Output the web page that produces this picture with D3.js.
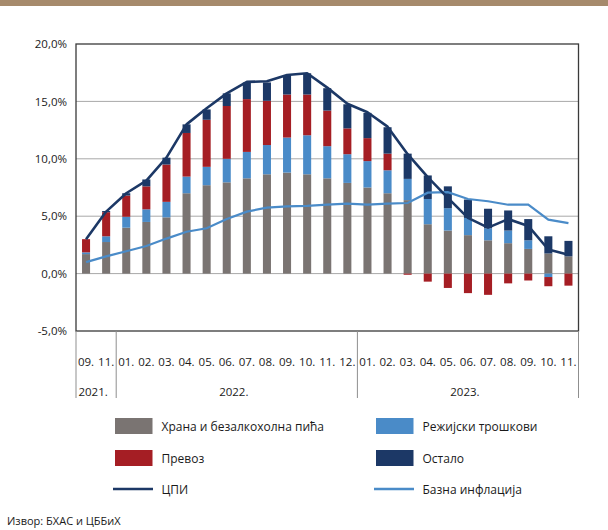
<!DOCTYPE html>
<html>
<head>
<meta charset="utf-8">
<script src="https://cdn.jsdelivr.net/npm/d3@7"></script>
<style>
    body { margin: 0; background: #fff; }
    svg text { font-family: 'Open Sans', sans-serif; fill: #1a1a1a; }
</style>
</head>
<body>
<svg id="chart"></svg>
<script>
// months on the x axis, grouped by year
const months = ['09.', '11.',
    '01.', '02.', '03.', '04.', '05.', '06.', '07.', '08.', '09.', '10.', '11.', '12.',
    '01.', '02.', '03.', '04.', '05.', '06.', '07.', '08.', '09.', '10.', '11.']
const years = [{ label: '2021.', n: 2 }, { label: '2022.', n: 12 }, { label: '2023.', n: 11 }]

// contributions to yearly inflation, p.p.
const food = [1.7, 2.75, 4.0, 4.5, 4.9, 7.0, 7.7, 7.95, 8.3, 8.65, 8.8, 8.65, 8.3, 7.9, 7.5, 7.0, 6.4, 4.3, 3.75, 3.35, 2.9, 2.65, 2.15, 1.75, 1.5]
const utilities = [0.15, 0.5, 0.95, 1.1, 1.35, 1.45, 1.6, 2.05, 2.3, 2.55, 3.05, 3.4, 2.8, 2.5, 2.3, 2.0, 1.85, 2.2, 1.95, 1.5, 1.05, 1.1, 0.75, -0.3, 0.0]
const transport = [1.15, 2.1, 1.85, 2.0, 3.25, 3.8, 4.1, 4.6, 4.6, 3.85, 3.75, 3.55, 3.1, 2.25, 2.0, 1.45, -0.1, -0.7, -1.25, -1.7, -1.85, -0.85, -0.6, -0.8, -1.05]
const other = [0.0, 0.1, 0.2, 0.6, 0.6, 0.75, 0.9, 1.1, 1.45, 1.6, 1.7, 1.85, 1.95, 2.1, 2.2, 2.3, 2.2, 2.05, 1.9, 1.6, 1.7, 1.75, 1.85, 1.5, 1.35]
const cpi = [3.0, 5.4, 7.0, 8.1, 10.1, 13.0, 14.4, 15.7, 16.7, 16.75, 17.3, 17.45, 16.2, 14.8, 14.05, 12.8, 10.4, 8.4, 6.6, 4.85, 4.0, 4.75, 4.15, 2.1, 1.65]
const core = [1.0, 1.5, 1.95, 2.4, 3.05, 3.65, 3.95, 4.75, 5.4, 5.75, 5.85, 5.9, 6.0, 6.1, 6.0, 6.1, 6.15, 7.05, 7.1, 6.5, 6.3, 6.0, 6.0, 4.7, 4.4]
const yTicks = [-5, 0, 5, 10, 15, 20]

const GRAY = '#7a7472'
const LIGHT = '#4a8bc8'
const RED = '#a51e24'
const NAVY = '#1c3866'

const series = [
    { key: 'food', name: 'Храна и безалкохолна пића', values: food, color: GRAY },
    { key: 'utilities', name: 'Режијски трошкови', values: utilities, color: LIGHT },
    { key: 'transport', name: 'Превоз', values: transport, color: RED },
    { key: 'other', name: 'Остало', values: other, color: NAVY }
]

const W = 608, H = 530
const margin = { top: 44, right: 29.5, bottom: 199, left: 76 }
const ids = months.map((m, i) => i)

const svg = d3.select('#chart').attr('width', W).attr('height', H)

svg.append('rect').attr('width', W).attr('height', H).style('fill', '#fff')
svg.append('rect').attr('width', W).attr('height', 6).style('fill', '#a68a6c')

const x = d3.scaleBand()
    .domain(ids)
    .range([margin.left, W - margin.right])
    .paddingInner(0.6)
    .paddingOuter(0.3)

const y = d3.scaleLinear()
    .domain([-5, 20])
    .range([H - margin.bottom, margin.top])

// hyphen minus and decimal comma, like the original
const locale = d3.formatLocale({ decimal: ',', thousands: '.', grouping: [3], currency: ['', ''], minus: '-' })
const fmt = v => locale.format('.1f')(v) + '%'

// gridlines
svg.append('g')
    .selectAll('line')
    .data(yTicks.filter(t => t > -5 && t < 20))
    .enter().append('line')
    .attr('x1', margin.left).attr('x2', W - margin.right)
    .attr('y1', d => y(d)).attr('y2', d => y(d))
    .style('stroke', '#a8a8a8')
    .style('stroke-width', 1)

// y axis labels
const yAxis = d3.axisLeft(y).tickValues(yTicks).tickFormat(fmt).tickSize(0).tickPadding(9)
svg.append('g')
    .attr('transform', `translate(${margin.left},0)`)
    .call(yAxis)
    .call(g => g.select('.domain').remove())
    .selectAll('text')
    .style('font-size', '11.5px')
    .style('font-family', "'Open Sans', sans-serif")
    .style('fill', '#1a1a1a')

// stacked bars
const rows = ids.map(i => {
    let r = { i }
    series.forEach(s => r[s.key] = s.values[i])
    return r
})
const stack = d3.stack()
    .keys(series.map(s => s.key))
    .offset(d3.stackOffsetDiverging)(rows)

svg.append('g')
    .selectAll('g')
    .data(stack)
    .enter().append('g')
    .style('fill', (d, k) => series[k].color)
    .selectAll('rect')
    .data(d => d)
    .enter().append('rect')
    .attr('x', d => x(d.data.i))
    .attr('y', d => y(Math.max(d[0], d[1])))
    .attr('width', x.bandwidth())
    .attr('height', d => Math.abs(y(d[0]) - y(d[1])))

// lines
const line = d3.line()
    .x((d, i) => x(i) + x.bandwidth() / 2)
    .y(d => y(d))

svg.append('path')
    .datum(core)
    .attr('d', line)
    .style('fill', 'none')
    .style('stroke', LIGHT)
    .style('stroke-width', 2.2)

svg.append('path')
    .datum(cpi)
    .attr('d', line)
    .style('fill', 'none')
    .style('stroke', NAVY)
    .style('stroke-width', 2.6)
    .style('stroke-linejoin', 'round')

// plot frame
svg.append('rect')
    .attr('x', margin.left).attr('y', margin.top)
    .attr('width', W - margin.right - margin.left)
    .attr('height', y(-5) - margin.top)
    .style('fill', 'none')
    .style('stroke', '#3a3a3a')
    .style('stroke-width', 1.3)

// category axis: months and year groups
const axisTop = y(-5), axisBottom = 398
let start = 0
const groups = years.map(g => {
    let r = { label: g.label, from: start, to: start + g.n - 1 }
    start += g.n
    return r
})
const edge = i => margin.left + i * x.step()

svg.append('g')
    .selectAll('line')
    .data(d3.range(years.length + 1))
    .enter().append('line')
    .attr('x1', k => edge(k === 0 ? 0 : groups[k - 1].to + 1))
    .attr('x2', k => edge(k === 0 ? 0 : groups[k - 1].to + 1))
    .attr('y1', axisTop).attr('y2', axisBottom)
    .style('stroke', '#8f8f8f')
    .style('stroke-width', 1)

svg.append('g')
    .selectAll('text')
    .data(months)
    .enter().append('text')
    .attr('x', (d, i) => x(i) + x.bandwidth() / 2)
    .attr('y', 365.5)
    .attr('text-anchor', 'middle')
    .style('font-size', '11.5px')
    .text(d => d)

svg.append('g')
    .selectAll('text')
    .data(groups)
    .enter().append('text')
    .attr('x', g => (edge(g.from) + edge(g.to + 1)) / 2 - 3)
    .attr('y', 395.5)
    .attr('text-anchor', 'middle')
    .style('font-size', '11.5px')
    .text(g => g.label)

// legend
const legend = [
    { name: series[0].name, color: GRAY, type: 'box', col: 0, row: 0 },
    { name: series[1].name, color: LIGHT, type: 'box', col: 1, row: 0 },
    { name: series[2].name, color: RED, type: 'box', col: 0, row: 1 },
    { name: series[3].name, color: NAVY, type: 'box', col: 1, row: 1 },
    { name: 'ЦПИ', color: NAVY, type: 'line', col: 0, row: 2 },
    { name: 'Базна инфлација', color: LIGHT, type: 'line', col: 1, row: 2 }
]
const lg = svg.append('g')
    .selectAll('g')
    .data(legend)
    .enter().append('g')
    .attr('transform', d => `translate(${d.col ? 376 : 115},${[426, 458, 489][d.row]})`)

lg.filter(d => d.type === 'box').append('rect')
    .attr('x', 0).attr('y', -8)
    .attr('width', 37.5).attr('height', 16)
    .style('fill', d => d.color)

lg.filter(d => d.type === 'line').append('line')
    .attr('x1', -2).attr('x2', 38)
    .attr('y1', 0).attr('y2', 0)
    .style('stroke', d => d.color)
    .style('stroke-width', 2.6)

lg.append('text')
    .attr('x', 46.5)
    .attr('y', 4.5)
    .style('font-size', '12px')
    .text(d => d.name)

svg.append('text')
    .attr('x', 7)
    .attr('y', 525)
    .style('font-size', '11px')
    .text('Извор: БХАС и ЦББиХ')
</script>
</body>
</html>
